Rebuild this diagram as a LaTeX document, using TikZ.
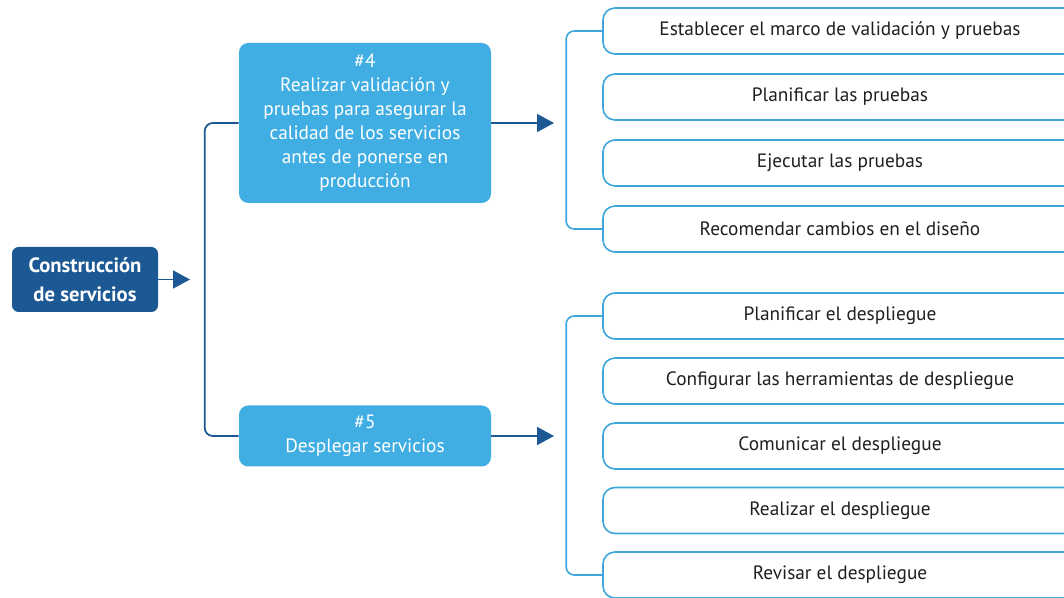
\documentclass[tikz,border=0pt]{standalone}
\usepackage{fontspec}
\setmainfont{PT Sans}
\usetikzlibrary{arrows.meta}
\definecolor{darkblue}{HTML}{1B5894}
\definecolor{lightblue}{HTML}{40AEE3}
\definecolor{edgeblue}{HTML}{3DA6DB}
\definecolor{textgray}{HTML}{231F20}

\begin{document}
\begin{tikzpicture}[x=0.75pt,y=-0.75pt,
    mainbox/.style={fill=darkblue,rounded corners=5pt,text=white,align=center,inner sep=0pt,
        font=\bfseries\fontsize{15.5}{22}\selectfont,minimum width=109.5pt,minimum height=48.75pt},
    stepbox/.style={fill=lightblue,rounded corners=7pt,text=white,align=center,inner sep=0pt,
        font=\fontsize{14.5}{18}\selectfont,minimum width=189pt},
    taskbox/.style={draw=edgeblue,line width=1.2pt,fill=white,rounded corners=9pt,text=textgray,
        inner sep=0pt,font=\fontsize{14.5}{16}\selectfont,minimum width=355.5pt,minimum height=34.5pt},
    link/.style={color=darkblue,line width=1.3pt,rounded corners=6pt},
    tip/.style={-{Triangle[length=12.75pt,width=13.5pt]}},
    bracket/.style={draw=edgeblue,line width=1.2pt,rounded corners=6pt}
]
        \useasboundingbox (0,0) rectangle (1064,598);

        \node[mainbox] (1) at (85, 279.5) {Construcción\\de servicios};
        \node[stepbox, minimum height=120pt] (2) at (365, 123)
            {\#4\\Realizar validación y\\pruebas para asegurar la\\calidad de los servicios\\antes de ponerse en\\producción};
        \node[stepbox, minimum height=45.75pt] (3) at (365, 436) {\#5\\Desplegar servicios};

        \node[taskbox] (4) at (840, 31) {Establecer el marco de validación y pruebas};
        \node[taskbox] (5) at (840, 97) {Planificar las pruebas};
        \node[taskbox] (6) at (840, 163) {Ejecutar las pruebas};
        \node[taskbox] (7) at (840, 229) {Recomendar cambios en el diseño};

        \node[taskbox] (8) at (840, 316) {Planificar el despliegue};
        \node[taskbox] (9) at (840, 381) {Configurar las herramientas de despliegue};
        \node[taskbox] (10) at (840, 446) {Comunicar el despliegue};
        \node[taskbox] (11) at (840, 510.5) {Realizar el despliegue};
        \node[taskbox] (12) at (840, 575) {Revisar el despliegue};

        \coordinate (e1) at (190, 279.5);
        \coordinate (e2) at (554, 123);
        \coordinate (e3) at (554, 436);

        \path[link]
            (1.east) edge[tip] (e1)
            (2.east) edge[tip] (e2)
            (3.east) edge[tip] (e3)
        ;
        \draw[link] (2.west) -- ++(-34,0) |- (3.west);
        \path[bracket] (4.west) -- ++(-36,0) |- (7.west);
        \path[bracket] (8.west) -- ++(-36,0) |- (12.west);
    \end{tikzpicture}
\end{document}
